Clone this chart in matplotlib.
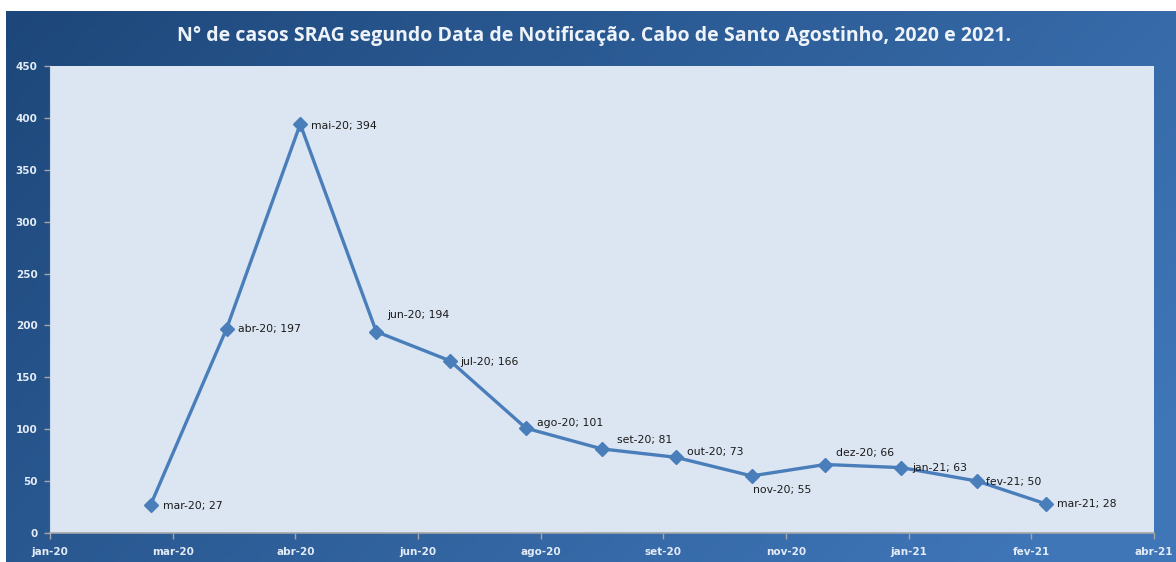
import matplotlib
matplotlib.use("Agg")
import matplotlib.pyplot as plt
import matplotlib.dates as mdates
import numpy as np
from datetime import date, timedelta

# ---------------- data ----------------
months = ["mar-20", "abr-20", "mai-20", "jun-20", "jul-20", "ago-20", "set-20",
          "out-20", "nov-20", "dez-20", "jan-21", "fev-21", "mar-21"]
month_dates = [date(2020, 3, 1), date(2020, 4, 1), date(2020, 5, 1), date(2020, 6, 1),
               date(2020, 7, 1), date(2020, 8, 1), date(2020, 9, 1), date(2020, 10, 1),
               date(2020, 11, 1), date(2020, 12, 1), date(2021, 1, 1), date(2021, 2, 1),
               date(2021, 3, 1)]
cases = [27, 197, 394, 194, 166, 101, 81, 73, 55, 66, 63, 50, 28]

tick_labels = ["jan-20", "mar-20", "abr-20", "jun-20", "ago-20", "set-20",
               "nov-20", "jan-21", "fev-21", "abr-21"]
y_ticks = [0, 50, 100, 150, 200, 250, 300, 350, 400, 450]

title = "N° de casos SRAG segundo Data de Notificação. Cabo de Santo Agostinho, 2020 e 2021."

# ---------------- style ----------------
W, H = 1176, 562
fig = plt.figure(figsize=(W / 100, H / 100), dpi=100)
fig.patch.set_facecolor("white")

# gradient background panel
bg = fig.add_axes([6 / W, 0, 1 - 6 / W, (H - 11) / H])
bg.set_axis_off()
nx, ny = 300, 150
xx, yy = np.meshgrid(np.linspace(0, 1, nx), np.linspace(0, 1, ny))
t = np.clip(0.75 * xx + 0.35 * yy, 0, 1)
c0 = np.array([0x1d, 0x47, 0x7a]) / 255.0
c1 = np.array([0x3f, 0x76, 0xb8]) / 255.0
img = c0[None, None, :] * (1 - t[..., None]) + c1[None, None, :] * t[..., None]
bg.imshow(img, aspect="auto", extent=[0, 1, 0, 1], origin="upper")
bg.set_xlim(0, 1)
bg.set_ylim(0, 1)

left, right, top, bottom = 50, 1154, 66, 533
ax = fig.add_axes([left / W, (H - bottom) / H, (right - left) / W, (bottom - top) / H])
ax.set_facecolor("#dce6f2")
for s in ["top", "right"]:
    ax.spines[s].set_visible(False)
ax.spines["left"].set_color("#c8d6e8")
ax.spines["bottom"].set_color("#a6a6a6")
ax.spines["bottom"].set_linewidth(1.2)

x = mdates.date2num(month_dates)
line_color = "#4a7ebb"
ax.plot(x, cases, color=line_color, lw=2.4, marker="D", ms=6.8,
        mfc=line_color, mec=line_color, zorder=3)

start = date(2020, 1, 20)
tick_dates = [start + timedelta(days=50 * k) for k in range(len(tick_labels))]
tnum = mdates.date2num(tick_dates)
ax.set_xlim(tnum[0], tnum[-1])
ax.set_xticks(tnum)
ax.set_xticklabels(tick_labels)
ax.set_ylim(0, 450)
ax.set_yticks(y_ticks)
ax.set_yticklabels([str(v) for v in y_ticks])

ax.tick_params(axis="both", colors="#a6a6a6", length=4, width=1,
               labelsize=7.5, labelcolor="#e3ebf6")
ax.tick_params(axis="x", pad=6)
ax.tick_params(axis="y", pad=5)
for lab in ax.get_xticklabels() + ax.get_yticklabels():
    lab.set_fontweight("bold")
    lab.set_family("DejaVu Sans")

# data labels
offsets = [(12, -1), (11, 0), (11, -2), (11, 17), (10, -1), (11, 5), (15, 9),
           (11, 5), (1, -14), (11, 12), (11, 0), (9, -1), (11, 0)]
for xi, m, v, (dx, dy) in zip(x, months, cases, offsets):
    ax.annotate(f"{m}; {v}", (xi, v), xytext=(dx, dy), textcoords="offset pixels",
                ha="left", va="center", fontsize=7.8, color="#1a1a1a",
                family="DejaVu Sans", zorder=4)

fig.text(594 / W, 1 - 36 / H, title, ha="center", va="center",
         fontsize=14.0, fontweight="bold", color="#eef3fa", family="Open Sans")

fig.savefig("out.png", dpi=100, facecolor=fig.get_facecolor())
